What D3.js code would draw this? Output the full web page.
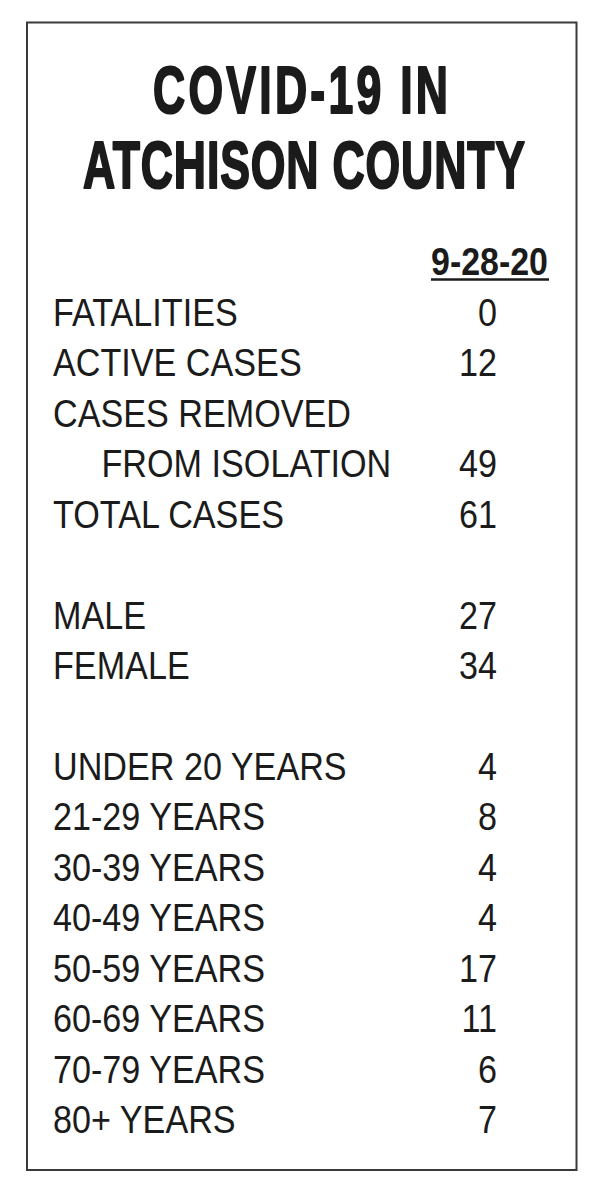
<!DOCTYPE html>
<html lang="en">
<head>
<meta charset="utf-8">
<title>COVID-19 in Atchison County</title>
<script src="https://cdnjs.cloudflare.com/ajax/libs/d3/7.8.5/d3.min.js"></script>
<style>
  html, body { margin: 0; padding: 0; background: #fff; }
</style>
</head>
<body>
<script>

var titleLines = ["COVID-19 IN", "ATCHISON COUNTY"];
var dateLabel = "9-28-20";

// one entry per printed line, blank lines are null
var rowLabels = [
	"FATALITIES", "ACTIVE CASES", "CASES REMOVED", "FROM ISOLATION", "TOTAL CASES",
	null,
	"MALE", "FEMALE",
	null,
	"UNDER 20 YEARS", "21-29 YEARS", "30-39 YEARS", "40-49 YEARS",
	"50-59 YEARS", "60-69 YEARS", "70-79 YEARS", "80+ YEARS"
];
var rowValues = [
	"0", "12", "", "49", "61",
	null,
	"27", "34",
	null,
	"4", "8", "4", "4", "17", "11", "6", "7"
];
var indented = ["FROM ISOLATION"];

var W = 604, H = 1200;
var ink = "#1b1b1b";

var svg = d3.select("body")
	.append("svg")
	.attr("width", W)
	.attr("height", H);

svg.append("rect")
	.attr("x", 27)
	.attr("y", 22.5)
	.attr("width", 549.5)
	.attr("height", 1147.5)
	.style("fill", "none")
	.style("stroke", "#3a3a3a")
	.style("stroke-width", 2);

// title: condensed heavy glyphs, spread to the measured width
var titleY = d3.scalePoint().domain(titleLines).range([113, 188]);
var titleWidth = { "COVID-19 IN": 295, "ATCHISON COUNTY": 442 };
var titleCenter = { "COVID-19 IN": 300.5, "ATCHISON COUNTY": 304 };
var tsx = 0.665;

svg.append("g")
	.attr("transform", "scale(" + tsx + ",1)")
	.selectAll("text.title")
	.data(titleLines)
	.enter()
	.append("text")
	.attr("class", "title")
	.attr("x", function(d){ return (titleCenter[d] - titleWidth[d] / 2) / tsx; })
	.attr("y", function(d){ return titleY(d); })
	.attr("textLength", function(d){ return titleWidth[d] / tsx; })
	.attr("lengthAdjust", "spacing")
	.style("font-family", "'Liberation Sans', Arial, sans-serif")
	.style("font-weight", "bold")
	.style("font-size", "67px")
	.style("fill", ink)
	.style("stroke", ink)
	.style("stroke-width", 2.2)
	.style("stroke-linejoin", "round")
	.text(function(d){ return d; });

// date header
var dateRight = 548, dateWidth = 117;
svg.append("text")
	.attr("x", dateRight - dateWidth)
	.attr("y", 275)
	.attr("textLength", dateWidth)
	.attr("lengthAdjust", "spacingAndGlyphs")
	.style("font-family", "'Liberation Sans', Arial, sans-serif")
	.style("font-weight", "bold")
	.style("font-size", "39px")
	.style("fill", ink)
	.text(dateLabel);

svg.append("line")
	.attr("x1", dateRight - dateWidth)
	.attr("x2", dateRight + 1)
	.attr("y1", 279.5)
	.attr("y2", 279.5)
	.style("stroke", ink)
	.style("stroke-width", 2.5);

// rows
var rowY = d3.scaleLinear()
	.domain([0, rowLabels.length - 1])
	.range([326, 1133]);

var sx = 0.865;
var labelX = 53, indentX = 101.5, valueRight = 497;

var rows = svg.append("g")
	.attr("transform", "scale(" + sx + ",1)")
	.selectAll("g.row")
	.data(rowLabels.map(function(d, i){ return { label: d, value: rowValues[i], i: i }; })
		.filter(function(d){ return d.label !== null; }))
	.enter()
	.append("g")
	.attr("class", "row");

rows.append("text")
	.attr("x", function(d){
		return (indented.indexOf(d.label) >= 0 ? indentX : labelX) / sx;
	})
	.attr("y", function(d){ return rowY(d.i); })
	.style("font-family", "'Liberation Sans', Arial, sans-serif")
	.style("font-size", "39.5px")
	.style("fill", ink)
	.text(function(d){ return d.label; });

rows.append("text")
	.attr("x", valueRight / sx)
	.attr("y", function(d){ return rowY(d.i); })
	.attr("text-anchor", "end")
	.style("font-family", "'Liberation Sans', Arial, sans-serif")
	.style("font-size", "39.5px")
	.style("fill", ink)
	.text(function(d){ return d.value; });

</script>
</body>
</html>
